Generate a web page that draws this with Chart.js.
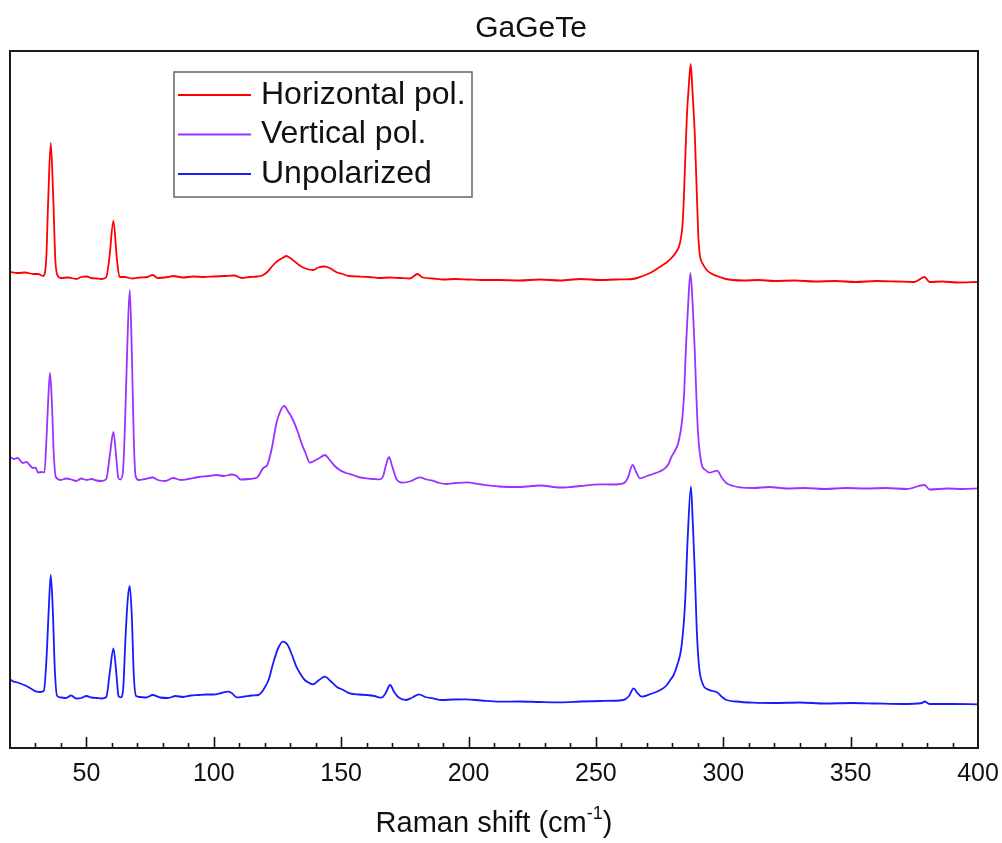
<!DOCTYPE html>
<html><head><meta charset="utf-8">
<script src="https://cdn.jsdelivr.net/npm/chart.js@4.4.0/dist/chart.umd.min.js"></script>
<style>html,body{margin:0;padding:0;background:#fff;}#wrap{width:1002px;height:843px;}</style>
</head><body><div id="wrap"><canvas id="c" width="1002" height="843"></canvas></div>
<script>
const titleText = 'GaGeTe';
const xAxisMain = 'Raman shift (cm';
const xAxisSup = '-1';
const xAxisEnd = ')';
const seriesLabels = ['Horizontal pol.', 'Vertical pol.', 'Unpolarized'];
const seriesColors = ['#ff0000', '#9933ff', '#1a1aff'];
const xMin = 20, xMax = 400;
const xTickValues = [50, 100, 150, 200, 250, 300, 350, 400];
const xMinorStep = 10;

// Horizontal pol. (arbitrary intensity units, stacked offset as in figure)
const hX = [20,23,26,29,31,33,34.2,35,36,37,37.8,38.8,40,43,46,48,50,52,54,56,57.8,59,60.6,62,63,65,68,71,74,76,78,82,84,88,92,96,100,104,108,111,114,117,119,121,123,125,127,128.5,130,132,134,136.5,139,141,143.5,145.5,148,150.5,153,157,161,165,169,173,177,180,182,186,190,195,200,205,212,220,228,236,244,252,258,264.5,268.4,272,275,278,280,282,283,284,284.5,285.2,285.7,286.5,287.2,288,288.8,289.7,290.2,290.7,292,293.5,296,298.6,301,303.7,308,314,320,328,336,344,352,360,368,375,379,381,386,392,400];
const hY = [476,475,475.5,474,474,472,488,548,605,548,488,472,470,470.5,469,471,471.5,470,469.5,469,471,490,527,488,471,471,469.5,470.5,471,473,470,471,472,470.5,471.5,471,471.5,472,472.5,470,471,471.5,472.5,476,482,487,490,492,490,486,482,479,478,480.5,481.5,480,476,474,472,471.5,471,470,470.5,470,469.5,474,470.5,469.5,468.5,469,468.5,468,468,467.5,468.5,467.5,469,468,468.5,469,472,476,481,486,491,498,505,523,548,598,631,663,684,653,615,548,513,495,484,478,473.5,471,469,468,467.5,468,467,467.5,466.5,467,466,467,466.5,466,471,466,466.5,465.5,466];

// Vertical pol.
const vX = [20,21.5,23,25,26.5,28,29,30,31,32.5,33.5,34.3,35,35.7,36.4,37.2,38,40,42,44,46,48,50,52,54,56,57.8,59.2,60.6,61.8,62.5,63.3,64.3,65.2,66,67,67.8,68.6,69.3,70.5,73,76,78,81,84,87,90,94,98,101,104,107,109,110.5,114,117,119.4,121,122.8,124.6,126,127.6,129.3,131.1,133,134.4,136,137.7,139.5,141.5,143.6,145.5,147.5,149.4,152,154.7,157.5,160,163,165.2,166.5,167.6,168.8,170,171.7,174.2,177.5,180.8,183.5,186,188.6,191.3,195,199.2,205,212,220,228,236,238.6,244,251.6,256,260.8,262.5,264.4,265.8,267.3,270,272.5,275,277.1,278.5,279.7,281,282.3,283.2,284,284.7,285.3,286.2,287.1,288,288.8,289.5,290.1,291.4,293,294.7,296.2,297.6,299.5,301.3,304,306.5,312,318,325,332,340,348,356,364,372,379,381,388,394,400];
const vY = [291.3,289,290,285,286,282,280,280.5,275.5,276,275.5,308,348,375,348,293,271,268,269.5,268.5,267,269.5,268,269,267.5,267,269,293,316,288,270,268.5,275,328,398,458,398,308,272,268,269,270.5,268,267,270,268,269,271,272,273,272,273.5,272,268.5,269,270.5,280,283,300,325,336,342,336,328,316,305,295,285.3,287.3,290,293,288,282,278,275,273,270.5,269.7,269,268.7,272,283,291,282,269,265.3,267,270.7,268.5,267.3,265,264,265,265.7,263.5,261.5,261,262.5,260.5,260.7,262,263.7,263.5,264.7,270,283,276,269.7,272,274,276.5,279.7,284,291.3,297,304.7,316,331.3,358,398,443,475,443,398,348,315,285,278,275.3,276.5,277.3,270,264.7,262,260.7,260,261,259.5,260,259,260,259.5,260,259,263,258.5,259.5,259,259.7];

// Unpolarized
const uX = [20,21.5,23,24.5,26.4,28.5,30.4,32,33.3,34.3,35.2,36,36.8,37.6,38.5,40,42,44,46,48,50,52,54,56,57.8,59.2,60.6,61.8,62.6,63.5,64.4,65.3,66.2,67,67.8,68.6,69.5,71,73.5,76,79,82,85,88,91,94,97,100,103,105.5,107,109,112,115,117.5,119.4,121.5,123.3,125.3,127.2,129,130.7,132.4,134,135.7,137.5,139,141.3,143.6,145.8,148.2,150.8,153.4,157,160,163,165.8,167.5,169.2,170.8,172.5,175.5,178,180.6,183,186,189.5,194,199,205,212,220,228,236,244,252,260.8,263,264.8,266.3,268,271.5,275.3,277.5,279,280.5,281.7,283.6,285,286,287.3,288,288.8,289.6,290.5,292.1,294,295.8,297.6,299.5,301.3,305,311.7,320,330,340,350,360,370,378,379,381,390,400];
const uY = [68.7,66.3,65.5,64,62,59,56.3,56,57.3,88,138,173,138,78,52,50.5,50,52.5,49.5,50,52,50.5,50,49.5,51,76,99.7,73,52,50.7,58,108,148,162,133,73,52,51,50.5,53,50.5,50,52,51,52.5,53,53.5,53.5,55,56.3,55,50.7,51.5,52.5,53,58,68,84.7,100,106.3,103,93,81.3,74,68,65,63.7,68,71.3,67,61.3,58,54.7,53.5,53,52,50.3,55,63,56,50.7,48,50.5,53.7,51,49.7,48,48.5,48.7,47.5,46.3,46.5,46,45.7,46.5,47,48,52,59.7,55,51.3,54,58,62,67.3,73,81.3,101.3,144.7,208,261.3,228,178,118,81.3,63,58.5,57,55.7,51,48,46.5,45.3,45,45.5,44.5,45,44.5,44,45,46.5,44,44,43.7];

const FONT = "'Liberation Sans', Arial, Helvetica, sans-serif";
const toPts = (xs, ys) => xs.map((x, i) => ({x: x, y: ys[i]}));

const framePlugin = {
  id: 'frameAndTicks',
  afterLayout(chart) {
    const t = chart.titleBlock;
    if (t) { t.left += 37; t.right += 37; }
  },
  afterDraw(chart) {
    const ctx = chart.ctx, a = chart.chartArea, xs = chart.scales.x;
    ctx.save();
    // ticks (inward)
    ctx.strokeStyle = '#111';
    ctx.lineWidth = 1.6;
    for (let v = xMin + xMinorStep; v < xMax; v += xMinorStep) {
      const px = Math.round(xs.getPixelForValue(v)) + 0.5;
      const major = xTickValues.includes(v);
      ctx.beginPath();
      ctx.moveTo(px, a.bottom);
      ctx.lineTo(px, a.bottom - (major ? 11 : 5));
      ctx.stroke();
    }
    // frame
    ctx.lineWidth = 2;
    ctx.strokeStyle = '#1a1a1a';
    ctx.strokeRect(a.left, a.top, a.right - a.left, a.bottom - a.top);
    // axis title with superscript
    ctx.fillStyle = '#111';
    ctx.textBaseline = 'middle';
    const f1 = '29px ' + FONT, f2 = '18px ' + FONT;
    ctx.font = f1; const w1 = ctx.measureText(xAxisMain).width; const w3 = ctx.measureText(xAxisEnd).width;
    ctx.font = f2; const w2 = ctx.measureText(xAxisSup).width;
    const total = w1 + w2 + w3;
    let x0 = (a.left + a.right) / 2 - total / 2;
    const y0 = 824;
    ctx.textAlign = 'left';
    ctx.font = f1; ctx.fillText(xAxisMain, x0, y0);
    ctx.font = f2; ctx.fillText(xAxisSup, x0 + w1, y0 - 10);
    ctx.font = f1; ctx.fillText(xAxisEnd, x0 + w1 + w2, y0);
    // legend
    const lx = a.left + 164, ly = a.top + 21, lw = 298, lh = 125;
    ctx.fillStyle = '#fff';
    ctx.fillRect(lx, ly, lw, lh);
    ctx.strokeStyle = '#666';
    ctx.lineWidth = 1.5;
    ctx.strokeRect(lx, ly, lw, lh);
    ctx.font = '32px ' + FONT;
    chart.data.datasets.forEach((ds, i) => {
      const yy = ly + 23 + i * 39.5;
      ctx.strokeStyle = ds.borderColor;
      ctx.lineWidth = 1.8;
      ctx.beginPath();
      ctx.moveTo(lx + 4, yy);
      ctx.lineTo(lx + 77, yy);
      ctx.stroke();
      ctx.fillStyle = '#111';
      ctx.fillText(ds.label, lx + 87, yy);
    });
    ctx.restore();
  }
};

new Chart(document.getElementById('c'), {
  type: 'line',
  data: {
    datasets: [
      {label: seriesLabels[0], data: toPts(hX, hY), borderColor: seriesColors[0]},
      {label: seriesLabels[1], data: toPts(vX, vY), borderColor: seriesColors[1]},
      {label: seriesLabels[2], data: toPts(uX, uY), borderColor: seriesColors[2]}
    ]
  },
  options: {
    responsive: false,
    animation: false,
    devicePixelRatio: 1,
    datasets: {line: {borderWidth: 1.8, pointRadius: 0, cubicInterpolationMode: 'monotone', fill: false}},
    layout: {padding: {left: 10, right: 24, top: 0, bottom: 0}},
    plugins: {
      legend: {display: false},
      tooltip: {enabled: false},
      title: {display: true, text: titleText, color: '#111', font: {family: FONT, size: 30, weight: 'normal'}, padding: {top: 11, bottom: 4}}
    },
    scales: {
      x: {
        type: 'linear', min: xMin, max: xMax,
        afterBuildTicks: (s) => { s.ticks = xTickValues.map(v => ({value: v})); },
        afterFit: (s) => { s.height = 95; s.paddingRight = 0; s.paddingLeft = 0; },
        grid: {display: false, drawTicks: false},
        border: {display: false},
        ticks: {color: '#111', font: {family: FONT, size: 25}, padding: 11, maxRotation: 0}
      },
      y: {display: false, min: 0, max: 697}
    }
  },
  plugins: [framePlugin]
});
</script></body></html>
